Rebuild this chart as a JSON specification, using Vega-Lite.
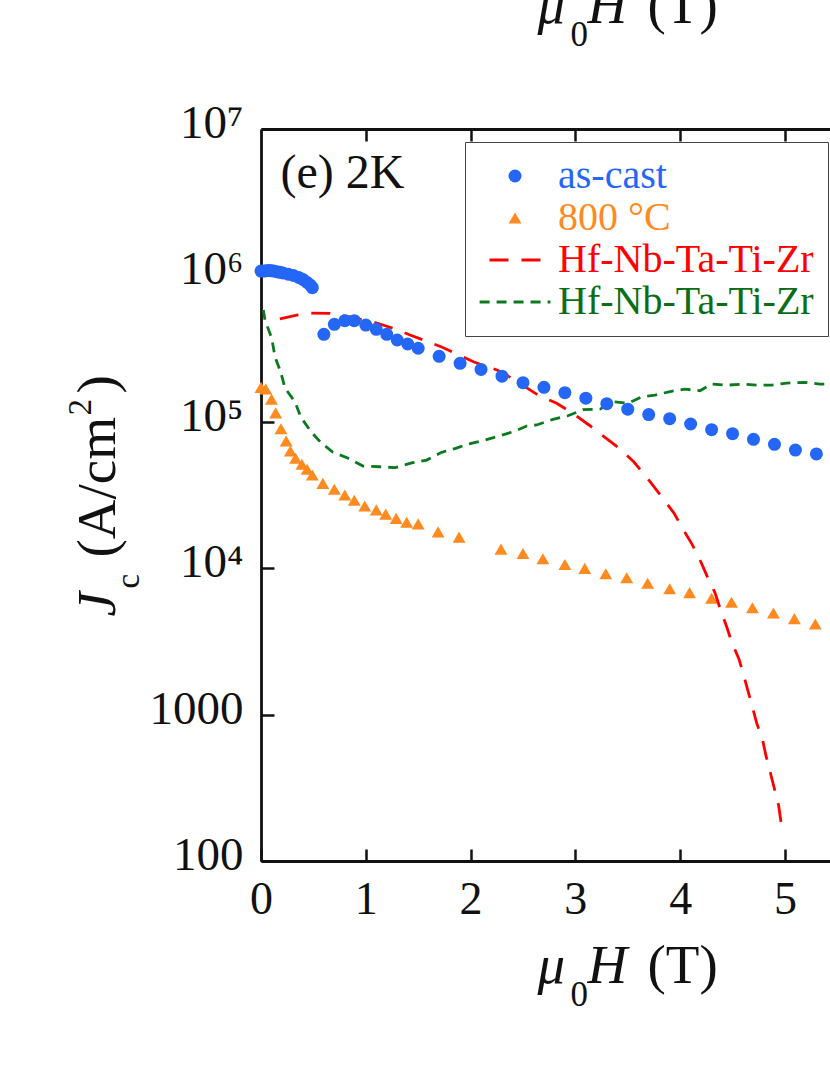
{"$schema":"https://vega.github.io/schema/vega-lite/v6.json","width":569,"height":732,"autosize":{"type":"none"},"padding":{"left":261,"top":129,"right":0,"bottom":214},"background":"white",
"config":{"view":{"stroke":null},"font":"Liberation Serif"},
"datasets":{
"anchor":[{"T":0,"Jc":100}],
"asCast":[{"T":0,"Jc":1070000},{"T":0.03,"Jc":1070000},{"T":0.06,"Jc":1080000},{"T":0.09,"Jc":1080000},{"T":0.12,"Jc":1070000},{"T":0.15,"Jc":1060000},{"T":0.18,"Jc":1050000},{"T":0.21,"Jc":1040000},{"T":0.26,"Jc":1020000},{"T":0.31,"Jc":998000},{"T":0.36,"Jc":968000},{"T":0.4,"Jc":938000},{"T":0.44,"Jc":894000},{"T":0.47,"Jc":860000},{"T":0.49,"Jc":824000},{"T":0.6,"Jc":396000},{"T":0.7,"Jc":463000},{"T":0.8,"Jc":491000},{"T":0.89,"Jc":491000},{"T":1.0,"Jc":458000},{"T":1.1,"Jc":428000},{"T":1.2,"Jc":396000},{"T":1.3,"Jc":362000},{"T":1.4,"Jc":340000},{"T":1.5,"Jc":318000},{"T":1.7,"Jc":280000},{"T":1.9,"Jc":251000},{"T":2.1,"Jc":228000},{"T":2.3,"Jc":205000},{"T":2.5,"Jc":185000},{"T":2.7,"Jc":172000},{"T":2.9,"Jc":158000},{"T":3.1,"Jc":145000},{"T":3.3,"Jc":133000},{"T":3.5,"Jc":122000},{"T":3.7,"Jc":112000},{"T":3.9,"Jc":105000},{"T":4.1,"Jc":96600},{"T":4.3,"Jc":88300},{"T":4.5,"Jc":83000},{"T":4.7,"Jc":75900},{"T":4.9,"Jc":70200},{"T":5.1,"Jc":64100},{"T":5.3,"Jc":60300},{"T":5.5,"Jc":55700}],
"annealed":[{"T":0,"Jc":172000},{"T":0.045,"Jc":168000},{"T":0.1,"Jc":143000},{"T":0.14,"Jc":115000},{"T":0.19,"Jc":89700},{"T":0.24,"Jc":73900},{"T":0.28,"Jc":63200},{"T":0.33,"Jc":56400},{"T":0.39,"Jc":51300},{"T":0.44,"Jc":47400},{"T":0.49,"Jc":43300},{"T":0.59,"Jc":38000},{"T":0.7,"Jc":34600},{"T":0.8,"Jc":31600},{"T":0.89,"Jc":29100},{"T":0.99,"Jc":26600},{"T":1.1,"Jc":25000},{"T":1.19,"Jc":23400},{"T":1.29,"Jc":21900},{"T":1.39,"Jc":20600},{"T":1.5,"Jc":20100},{"T":1.69,"Jc":17700},{"T":1.89,"Jc":16300},{"T":2.29,"Jc":13500},{"T":2.5,"Jc":12600},{"T":2.69,"Jc":11600},{"T":2.9,"Jc":10600},{"T":3.09,"Jc":9980},{"T":3.29,"Jc":9160},{"T":3.49,"Jc":8610},{"T":3.69,"Jc":7890},{"T":3.9,"Jc":7240},{"T":4.09,"Jc":6810},{"T":4.3,"Jc":6230},{"T":4.49,"Jc":5850},{"T":4.69,"Jc":5370},{"T":4.89,"Jc":4940},{"T":5.09,"Jc":4520},{"T":5.29,"Jc":4160},{"T":5.49,"Jc":3850}],
"red":[{"T":0.18,"Jc":504000},{"T":0.353,"Jc":537000},{"T":0.477,"Jc":553000},{"T":0.658,"Jc":550000},{"T":0.849,"Jc":520000},{"T":1.104,"Jc":473000},{"T":1.279,"Jc":431000},{"T":1.422,"Jc":392000},{"T":1.594,"Jc":352000},{"T":1.724,"Jc":324000},{"T":1.889,"Jc":286000},{"T":2.032,"Jc":256000},{"T":2.252,"Jc":226000},{"T":2.392,"Jc":199000},{"T":2.646,"Jc":152000},{"T":2.822,"Jc":134000},{"T":2.977,"Jc":114000},{"T":3.13,"Jc":95100},{"T":3.273,"Jc":79100},{"T":3.416,"Jc":66200},{"T":3.559,"Jc":53100},{"T":3.693,"Jc":40600},{"T":3.823,"Jc":30800},{"T":3.941,"Jc":23800},{"T":4.027,"Jc":18500},{"T":4.113,"Jc":14600},{"T":4.189,"Jc":11400},{"T":4.265,"Jc":8570},{"T":4.332,"Jc":6810},{"T":4.386,"Jc":5180},{"T":4.444,"Jc":3980},{"T":4.494,"Jc":3100},{"T":4.561,"Jc":2400},{"T":4.606,"Jc":1860},{"T":4.647,"Jc":1455},{"T":4.695,"Jc":1090},{"T":4.73,"Jc":877},{"T":4.787,"Jc":671},{"T":4.819,"Jc":524},{"T":4.864,"Jc":393},{"T":4.898,"Jc":315},{"T":4.94,"Jc":239},{"T":4.962,"Jc":185},{"T":4.993,"Jc":155}],
"green":[{"T":0.022,"Jc":581000},{"T":0.038,"Jc":495000},{"T":0.102,"Jc":373000},{"T":0.134,"Jc":277000},{"T":0.188,"Jc":219000},{"T":0.229,"Jc":170000},{"T":0.324,"Jc":137000},{"T":0.379,"Jc":108000},{"T":0.477,"Jc":85500},{"T":0.573,"Jc":71900},{"T":0.684,"Jc":62200},{"T":0.827,"Jc":56600},{"T":0.973,"Jc":49900},{"T":1.135,"Jc":49300},{"T":1.279,"Jc":48600},{"T":1.438,"Jc":52400},{"T":1.581,"Jc":54800},{"T":1.724,"Jc":61900},{"T":1.858,"Jc":65900},{"T":1.975,"Jc":70500},{"T":2.106,"Jc":73900},{"T":2.249,"Jc":79100},{"T":2.405,"Jc":85500},{"T":2.535,"Jc":93500},{"T":2.631,"Jc":95100},{"T":2.786,"Jc":104000},{"T":2.929,"Jc":110000},{"T":3.073,"Jc":121000},{"T":3.235,"Jc":122000},{"T":3.359,"Jc":137000},{"T":3.502,"Jc":134000},{"T":3.633,"Jc":148000},{"T":3.76,"Jc":152000},{"T":3.903,"Jc":161000},{"T":4.046,"Jc":167000},{"T":4.189,"Jc":163000},{"T":4.3,"Jc":181000},{"T":4.456,"Jc":178000},{"T":4.599,"Jc":181000},{"T":4.73,"Jc":178000},{"T":4.873,"Jc":178000},{"T":5.016,"Jc":184000},{"T":5.191,"Jc":186000},{"T":5.334,"Jc":181000},{"T":5.52,"Jc":181000}]
},
"resolve":{"axis":{"x":"independent","y":"independent"}},
"layer":[
{"data":{"name":"annealed"},"transform":[{"calculate":"'800 °C'","as":"series"}],"mark":{"type":"point","filled":true,"opacity":1},
"encoding":{"x":{"field":"T","type":"quantitative","scale":{"domain":[0,5.43],"nice":false,"zero":false},"axis":{"orient":"bottom","values":[0,1,2,3,4,5],"format":"d","title":null,"grid":false,"tickSize":-12,"tickWidth":2.5,"tickColor":"#111","domainWidth":2.8,"domainColor":"#111","labelFont":"Liberation Serif","labelFontSize":46,"labelColor":"#111","labelPadding":28,"labelFlush":false,"labelOverlap":false}},
"y":{"field":"Jc","type":"quantitative","scale":{"type":"log","domain":[100,10000000],"nice":false},"axis":{"orient":"left","values":[100,1000,10000,100000,1000000,10000000],"title":null,"grid":false,"tickSize":-13,"tickWidth":2.5,"tickColor":"#111","domainWidth":2.8,"domainColor":"#111","labelFont":"Liberation Serif","labelFontSize":47,"labelColor":"#111","labelPadding":31,"labelOffset":-5.5,"labelOverlap":false,"labelFlush":false,"labelExpr":"datum.value==100?'100':datum.value==1000?'1000':datum.value==10000?'10⁴':datum.value==100000?'10⁵':datum.value==1000000?'10⁶':'10⁷'"}},
"color":{"field":"series","type":"nominal","scale":{"domain":["as-cast","800 °C","Hf-Nb-Ta-Ti-Zr","Hf-Nb-Ta-Ti-Zr "],"range":["#2466f5","#ff8a1f","#ff0000","#0b7a1e"]},"legend":{"orient":"none","legendX":204,"legendY":13,"title":null,"strokeColor":"#444","fillColor":"white","padding":14,"rowPadding":2,"labelFont":"Liberation Serif","labelFontSize":40,"labelOffset":23,"symbolOffset":16,"labelLimit":500,"symbolStrokeWidth":{"expr":"datum.value=='as-cast'||datum.value=='800 °C'?0:2.8"},"symbolSize":100,"labelColor":{"expr":"datum.label=='as-cast'?'#2466f5':datum.label=='800 °C'?'#ff8a1f':datum.label=='Hf-Nb-Ta-Ti-Zr'?'#ff0000':'#0b6e14'"}}},
"shape":{"field":"series","type":"nominal","scale":{"domain":["as-cast","800 °C","Hf-Nb-Ta-Ti-Zr","Hf-Nb-Ta-Ti-Zr "],"range":["circle","triangle-up","M-4,0H4","M-5.6,0H5.6"]}},
"size":{"field":"series","type":"nominal","legend":null,"scale":{"domain":["as-cast","800 °C","Hf-Nb-Ta-Ti-Zr","Hf-Nb-Ta-Ti-Zr "],"range":[169,160,2704,5329]}}}},
{"data":{"name":"red"},"transform":[{"calculate":"'Hf-Nb-Ta-Ti-Zr'","as":"series"}],"mark":{"type":"line","strokeWidth":2.8},
"encoding":{"x":{"field":"T","type":"quantitative","scale":{"domain":[0,5.43],"nice":false,"zero":false},"axis":{"orient":"top","values":[1,2,3,4,5],"title":null,"labels":false,"grid":false,"tickSize":-12,"tickWidth":2.5,"tickColor":"#111","domainWidth":2.8,"domainColor":"#111"}},
"y":{"field":"Jc","type":"quantitative","scale":{"type":"log","domain":[100,10000000],"nice":false},"axis":null},
"color":{"field":"series","type":"nominal","scale":{"domain":["as-cast","800 °C","Hf-Nb-Ta-Ti-Zr","Hf-Nb-Ta-Ti-Zr "],"range":["#2466f5","#ff8a1f","#ff0000","#0b7a1e"]}},
"strokeDash":{"field":"series","type":"nominal","scale":{"domain":["as-cast","800 °C","Hf-Nb-Ta-Ti-Zr","Hf-Nb-Ta-Ti-Zr "],"range":[[1,0],[1,0],[19,13],[10,7]]}}}},
{"data":{"name":"green"},"transform":[{"calculate":"'Hf-Nb-Ta-Ti-Zr '","as":"series"}],"mark":{"type":"line","strokeWidth":2.8},
"encoding":{"x":{"field":"T","type":"quantitative","scale":{"domain":[0,5.43],"nice":false,"zero":false},"axis":null},
"y":{"field":"Jc","type":"quantitative","scale":{"type":"log","domain":[100,10000000],"nice":false},"axis":null},
"color":{"field":"series","type":"nominal","scale":{"domain":["as-cast","800 °C","Hf-Nb-Ta-Ti-Zr","Hf-Nb-Ta-Ti-Zr "],"range":["#2466f5","#ff8a1f","#ff0000","#0b7a1e"]}},
"strokeDash":{"field":"series","type":"nominal","scale":{"domain":["as-cast","800 °C","Hf-Nb-Ta-Ti-Zr","Hf-Nb-Ta-Ti-Zr "],"range":[[1,0],[1,0],[19,13],[10,7]]}}}},
{"data":{"name":"asCast"},"transform":[{"calculate":"'as-cast'","as":"series"}],"mark":{"type":"point","filled":true,"opacity":1},
"encoding":{"x":{"field":"T","type":"quantitative","scale":{"domain":[0,5.43],"nice":false,"zero":false},"axis":null},
"y":{"field":"Jc","type":"quantitative","scale":{"type":"log","domain":[100,10000000],"nice":false},"axis":null},
"color":{"field":"series","type":"nominal","scale":{"domain":["as-cast","800 °C","Hf-Nb-Ta-Ti-Zr","Hf-Nb-Ta-Ti-Zr "],"range":["#2466f5","#ff8a1f","#ff0000","#0b7a1e"]}},
"shape":{"field":"series","type":"nominal","scale":{"domain":["as-cast","800 °C","Hf-Nb-Ta-Ti-Zr","Hf-Nb-Ta-Ti-Zr "],"range":["circle","triangle-up","M-4,0H4","M-5.6,0H5.6"]}},
"size":{"field":"series","type":"nominal","legend":null,"scale":{"domain":["as-cast","800 °C","Hf-Nb-Ta-Ti-Zr","Hf-Nb-Ta-Ti-Zr "],"range":[169,160,2704,5329]}}}},
{"data":{"name":"anchor"},"mark":{"type":"point","opacity":0},"encoding":{
"x":{"field":"T","type":"quantitative","scale":{"domain":[0,5.43],"nice":false,"zero":false},"axis":{"orient":"bottom","values":[],"domain":false,"ticks":false,"labels":false,"grid":false,"title":"μ","titleX":276,"titleY":121,"titleAlign":"left","titleBaseline":"alphabetic","titleFont":"Liberation Serif","titleFontStyle":"italic","titleFontWeight":"normal","titleFontSize":55,"titleColor":"#111"}},
"y":{"field":"Jc","type":"quantitative","scale":{"type":"log","domain":[100,10000000],"nice":false},"axis":{"orient":"left","values":[],"domain":false,"ticks":false,"labels":false,"grid":false,"title":"J","titleX":-147,"titleY":487,"titleAngle":-90,"titleAlign":"left","titleBaseline":"alphabetic","titleFont":"Liberation Serif","titleFontStyle":"italic","titleFontWeight":"normal","titleFontSize":55,"titleColor":"#111"}}}},
{"data":{"name":"anchor"},"mark":{"type":"point","opacity":0},"encoding":{
"x":{"field":"T","type":"quantitative","scale":{"domain":[0,5.43],"nice":false,"zero":false},"axis":{"orient":"bottom","values":[],"domain":false,"ticks":false,"labels":false,"grid":false,"title":"0","titleX":309,"titleY":144,"titleAlign":"left","titleBaseline":"alphabetic","titleFont":"Liberation Serif","titleFontWeight":"normal","titleFontSize":35,"titleColor":"#111"}},
"y":{"field":"Jc","type":"quantitative","scale":{"type":"log","domain":[100,10000000],"nice":false},"axis":{"orient":"left","values":[],"domain":false,"ticks":false,"labels":false,"grid":false,"title":"c","titleX":-123,"titleY":459,"titleAngle":-90,"titleAlign":"left","titleBaseline":"alphabetic","titleFont":"Liberation Serif","titleFontWeight":"normal","titleFontSize":33,"titleColor":"#111"}}}},
{"data":{"name":"anchor"},"mark":{"type":"point","opacity":0},"encoding":{
"x":{"field":"T","type":"quantitative","scale":{"domain":[0,5.43],"nice":false,"zero":false},"axis":{"orient":"bottom","values":[],"domain":false,"ticks":false,"labels":false,"grid":false,"title":"H","titleX":326,"titleY":121,"titleAlign":"left","titleBaseline":"alphabetic","titleFont":"Liberation Serif","titleFontStyle":"italic","titleFontWeight":"normal","titleFontSize":55,"titleColor":"#111"}},
"y":{"field":"Jc","type":"quantitative","scale":{"type":"log","domain":[100,10000000],"nice":false},"axis":{"orient":"left","values":[],"domain":false,"ticks":false,"labels":false,"grid":false,"title":"(A/cm","titleX":-147,"titleY":428,"titleAngle":-90,"titleAlign":"left","titleBaseline":"alphabetic","titleFont":"Liberation Serif","titleFontWeight":"normal","titleFontSize":55,"titleColor":"#111"}}}},
{"data":{"name":"anchor"},"mark":{"type":"point","opacity":0},"encoding":{
"x":{"field":"T","type":"quantitative","scale":{"domain":[0,5.43],"nice":false,"zero":false},"axis":{"orient":"bottom","values":[],"domain":false,"ticks":false,"labels":false,"grid":false,"title":"(T)","titleX":386,"titleY":121,"titleAlign":"left","titleBaseline":"alphabetic","titleFont":"Liberation Serif","titleFontWeight":"normal","titleFontSize":55,"titleColor":"#111"}},
"y":{"field":"Jc","type":"quantitative","scale":{"type":"log","domain":[100,10000000],"nice":false},"axis":{"orient":"left","values":[],"domain":false,"ticks":false,"labels":false,"grid":false,"title":"2","titleX":-171,"titleY":286,"titleAngle":-90,"titleAlign":"left","titleBaseline":"alphabetic","titleFont":"Liberation Serif","titleFontWeight":"normal","titleFontSize":33,"titleColor":"#111"}}}},
{"data":{"name":"anchor"},"mark":{"type":"point","opacity":0},"encoding":{
"x":{"field":"T","type":"quantitative","scale":{"domain":[0,5.43],"nice":false,"zero":false},"axis":{"orient":"bottom","values":[],"domain":false,"ticks":false,"labels":false,"grid":false,"title":"μ","titleX":276,"titleY":-839,"titleAlign":"left","titleBaseline":"alphabetic","titleFont":"Liberation Serif","titleFontStyle":"italic","titleFontWeight":"normal","titleFontSize":55,"titleColor":"#111"}},
"y":{"field":"Jc","type":"quantitative","scale":{"type":"log","domain":[100,10000000],"nice":false},"axis":{"orient":"left","values":[],"domain":false,"ticks":false,"labels":false,"grid":false,"title":")","titleX":-147,"titleY":264,"titleAngle":-90,"titleAlign":"left","titleBaseline":"alphabetic","titleFont":"Liberation Serif","titleFontWeight":"normal","titleFontSize":55,"titleColor":"#111"}}}},
{"data":{"name":"anchor"},"mark":{"type":"point","opacity":0},"encoding":{
"x":{"field":"T","type":"quantitative","scale":{"domain":[0,5.43],"nice":false,"zero":false},"axis":{"orient":"bottom","values":[],"domain":false,"ticks":false,"labels":false,"grid":false,"title":"0","titleX":309,"titleY":-816,"titleAlign":"left","titleBaseline":"alphabetic","titleFont":"Liberation Serif","titleFontWeight":"normal","titleFontSize":35,"titleColor":"#111"}},
"y":{"field":"Jc","type":"quantitative","scale":{"type":"log","domain":[100,10000000],"nice":false},"axis":{"orient":"left","values":[],"domain":false,"ticks":false,"labels":false,"grid":false,"title":"(e) 2K","titleX":19,"titleY":58,"titleAngle":0,"titleAlign":"left","titleBaseline":"alphabetic","titleFont":"Liberation Serif","titleFontWeight":"normal","titleFontSize":48,"titleColor":"#111"}}}},
{"data":{"name":"anchor"},"mark":{"type":"point","opacity":0},"encoding":{
"x":{"field":"T","type":"quantitative","scale":{"domain":[0,5.43],"nice":false,"zero":false},"axis":{"orient":"bottom","values":[],"domain":false,"ticks":false,"labels":false,"grid":false,"title":"H","titleX":326,"titleY":-839,"titleAlign":"left","titleBaseline":"alphabetic","titleFont":"Liberation Serif","titleFontStyle":"italic","titleFontWeight":"normal","titleFontSize":55,"titleColor":"#111"}},
"y":{"field":"Jc","type":"quantitative","scale":{"type":"log","domain":[100,10000000],"nice":false},"axis":null}}},
{"data":{"name":"anchor"},"mark":{"type":"point","opacity":0},"encoding":{
"x":{"field":"T","type":"quantitative","scale":{"domain":[0,5.43],"nice":false,"zero":false},"axis":{"orient":"bottom","values":[],"domain":false,"ticks":false,"labels":false,"grid":false,"title":"(T)","titleX":386,"titleY":-839,"titleAlign":"left","titleBaseline":"alphabetic","titleFont":"Liberation Serif","titleFontWeight":"normal","titleFontSize":55,"titleColor":"#111"}},
"y":{"field":"Jc","type":"quantitative","scale":{"type":"log","domain":[100,10000000],"nice":false},"axis":null}}}
]}
